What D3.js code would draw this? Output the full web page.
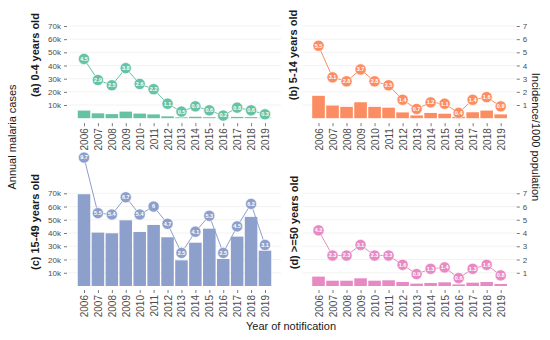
<!DOCTYPE html>
<html>
<head>
<meta charset="utf-8">
<script src="https://cdn.jsdelivr.net/npm/d3@7"></script>
<style>
  html, body { margin: 0; padding: 0; background: #ffffff; }
  svg { display: block; }
</style>
</head>
<body>
<svg id="chart" width="550" height="340"></svg>
<script>
// ---------------- DATA ----------------
const years = ["2006","2007","2008","2009","2010","2011","2012","2013","2014","2015","2016","2017","2018","2019"];

const panelTitles = ["(a) 0-4 years old", "(b) 5-14 years old", "(c) 15-49 years old", "(d) >=50 years old"];

const cases0to4   = [5800, 3700, 3100, 5000, 3500, 2900, 1400, 650, 1100, 750, 300, 1000, 800, 400];
const inc0to4     = [4.5, 2.9, 2.5, 3.8, 2.6, 2.2, 1.1, 0.5, 0.9, 0.6, 0.2, 0.8, 0.6, 0.3];

const cases5to14  = [17000, 9600, 8600, 12100, 8600, 8000, 4400, 2100, 4000, 3400, 1100, 4500, 5800, 2900];
const inc5to14    = [5.5, 3.1, 2.8, 3.7, 2.8, 2.5, 1.4, 0.7, 1.2, 1.1, 0.4, 1.4, 1.6, 0.9];

const cases15to49 = [69300, 40300, 39800, 49600, 40800, 46100, 36800, 19400, 32700, 43300, 20400, 37300, 52200, 26700];
const inc15to49   = [9.7, 5.5, 5.4, 6.7, 5.4, 6, 4.7, 2.5, 4.1, 5.3, 2.5, 4.5, 6.2, 3.1];

const cases50plus = [7100, 4000, 4000, 5800, 4000, 4300, 3000, 1800, 2300, 2800, 1200, 2500, 3000, 1500];
const inc50plus   = [4.2, 2.3, 2.3, 3.1, 2.3, 2.3, 1.6, 0.9, 1.3, 1.4, 0.6, 1.3, 1.6, 0.8];

const caseTicks = [10000, 20000, 30000, 40000, 50000, 60000, 70000];
const incTicks  = [1, 2, 3, 4, 5, 6, 7];

const colors = ["#66c2a5", "#fc8d62", "#8da0cb", "#e78ac3"];

// ---------------- LAYOUT ----------------
const FONT = "'Liberation Sans', Arial, Helvetica, sans-serif";
const svg = d3.select("#chart").style("font-family", FONT);
svg.append("rect").attr("width", 550).attr("height", 340).attr("fill", "#fff");

const colRange = [[68, 281], [302.4, 516.8]];
const rowRange = [[118.2, 26], [286, 193.3]];
const titlePos = [[35, 55], [293, 55], [35, 222], [294, 222.5]];

const panels = [
  { title: panelTitles[0], cases: cases0to4,   inc: inc0to4,   color: colors[0], col: 0, row: 0 },
  { title: panelTitles[1], cases: cases5to14,  inc: inc5to14,  color: colors[1], col: 1, row: 0 },
  { title: panelTitles[2], cases: cases15to49, inc: inc15to49, color: colors[2], col: 0, row: 1 },
  { title: panelTitles[3], cases: cases50plus, inc: inc50plus, color: colors[3], col: 1, row: 1 }
];

panels.forEach((p, i) => {
  const x = d3.scalePoint().domain(years).range(colRange[p.col]).padding(1.15);
  const y = d3.scaleLinear().domain([0, 70000]).range(rowRange[p.row]);
  const yInc = d3.scaleLinear().domain([0, 7]).range(rowRange[p.row]);
  const bw = x.step() * 0.9;
  const base = y(0);
  const g = svg.append("g");

  // gridlines
  g.append("g").selectAll("line").data(caseTicks).join("line")
    .attr("x1", colRange[p.col][0]).attr("x2", colRange[p.col][1])
    .attr("y1", d => y(d)).attr("y2", d => y(d))
    .attr("stroke", "#ebebeb").attr("stroke-width", 0.6);

  // bars
  g.append("g").selectAll("rect").data(years).join("rect")
    .attr("x", d => x(d) - bw / 2)
    .attr("width", bw)
    .attr("y", (d, k) => y(p.cases[k]))
    .attr("height", (d, k) => base - y(p.cases[k]))
    .attr("fill", p.color);

  // line
  const line = d3.line().x((d, k) => x(years[k])).y(d => yInc(d));
  g.append("path").datum(p.inc).attr("d", line)
    .attr("fill", "none").attr("stroke", p.color).attr("stroke-width", 1);

  // points
  g.append("g").selectAll("circle").data(p.inc).join("circle")
    .attr("cx", (d, k) => x(years[k])).attr("cy", d => yInc(d))
    .attr("r", 5.6).attr("fill", p.color)
    .attr("stroke", "#fff").attr("stroke-width", 0.6);

  g.append("g").selectAll("text").data(p.inc).join("text")
    .attr("x", (d, k) => x(years[k])).attr("y", d => yInc(d))
    .attr("dy", "0.35em").attr("text-anchor", "middle")
    .attr("font-size", 5.5).attr("font-weight", "bold").attr("fill", "#fff")
    .text(d => String(d));

  // x axis
  const xAxis = d3.axisBottom(x).tickSize(3).tickSizeOuter(0);
  const ax = g.append("g").attr("transform", `translate(0,${base + (p.row === 0 ? 5 : 4)})`).call(xAxis);
  ax.select(".domain").remove();
  ax.selectAll(".tick line").attr("stroke", "#555").attr("stroke-width", 0.8);
  ax.selectAll(".tick text")
    .attr("transform", "rotate(-90)")
    .attr("x", -5).attr("y", 0).attr("dy", "0.35em")
    .attr("text-anchor", "end")
    .attr("font-size", 10).attr("fill", "#4d4d4d").attr("font-family", FONT);

  // y axis
  if (p.col === 0) {
    const yAxis = d3.axisLeft(y).tickValues(caseTicks).tickFormat(d => (d / 1000) + "k").tickSize(3).tickPadding(3);
    const ay = g.append("g").attr("transform", `translate(${colRange[0][0] - 1},0)`).call(yAxis);
    ay.select(".domain").remove();
    ay.selectAll(".tick line").attr("stroke", "#555").attr("stroke-width", 0.8);
    ay.selectAll(".tick text").attr("font-size", 8).attr("fill", "#4d4d4d").attr("font-family", FONT);
  } else {
    const yAxisR = d3.axisRight(yInc).tickValues(incTicks).tickFormat(d3.format("d")).tickSize(3).tickPadding(3);
    const ay = g.append("g").attr("transform", `translate(${colRange[1][1]},0)`).call(yAxisR);
    ay.select(".domain").remove();
    ay.selectAll(".tick line").attr("stroke", "#555").attr("stroke-width", 0.8);
    ay.selectAll(".tick text").attr("font-size", 8).attr("fill", "#4d4d4d").attr("font-family", FONT);
  }

  // panel title
  svg.append("text")
    .attr("transform", `translate(${titlePos[i][0]},${titlePos[i][1]}) rotate(-90)`)
    .attr("text-anchor", "middle").attr("dy", "0.35em")
    .attr("font-size", 11).attr("font-weight", "bold").attr("fill", "#1a1a1a")
    .text(p.title);
});

// global axis titles
svg.append("text")
  .attr("transform", "translate(12,137) rotate(-90)")
  .attr("text-anchor", "middle").attr("dy", "0.35em")
  .attr("font-size", 11).attr("fill", "#1a1a1a")
  .text("Annual malaria cases");

svg.append("text")
  .attr("transform", "translate(536,137) rotate(90)")
  .attr("text-anchor", "middle").attr("dy", "0.35em")
  .attr("font-size", 11).attr("fill", "#1a1a1a")
  .text("Incidence/1000 population");

svg.append("text")
  .attr("x", 291).attr("y", 330)
  .attr("text-anchor", "middle")
  .attr("font-size", 11).attr("fill", "#1a1a1a")
  .text("Year of notification");
</script>
</body>
</html>
